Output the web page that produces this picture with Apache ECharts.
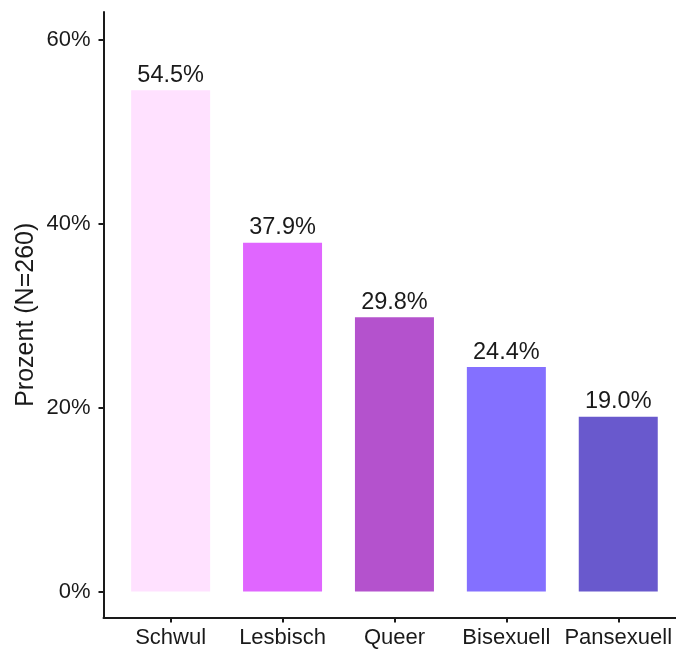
<!DOCTYPE html>
<html>
<head>
<meta charset="utf-8">
<script src="https://cdn.jsdelivr.net/npm/echarts@6/dist/echarts.min.js"></script>
<style>
  html, body { margin: 0; padding: 0; background: #fff; }
  #myChart { width: 676px; height: 651px; }
</style>
</head>
<body>
<div id="myChart"></div>
<script>
let myChart = echarts.init(document.getElementById('myChart'));

// data
const categories = ['Schwul', 'Lesbisch', 'Queer', 'Bisexuell', 'Pansexuell'];
const percents = [54.5, 37.9, 29.8, 24.4, 19.0];
const barColors = ['#FFE1FF', '#E066FF', '#B452CD', '#8470FF', '#6959CD'];
const yTicks = [0, 20, 40, 60];
const xTicks = categories.map((c, i) => i + 1);

const font = "'Liberation Sans', Arial, sans-serif";
const ink = '#1a1a1a';

const barData = categories.map(function (name, i) {
  return {
    name: name,
    value: [i + 1, percents[i]],
    itemStyle: { color: barColors[i] },
  };
});

let myChartOption = {
  animation: false,
  grid: {
    left: 103.5,
    top: 12,
    right: 0,
    bottom: 33.5,
    containLabel: false,
  },
  xAxis: {
    type: 'value',
    min: 0.4,
    max: 5.516, // plot is cut off at the right edge
    splitLine: { show: false },
    axisLine: { show: true, onZero: false, lineStyle: { color: ink, width: 2 } },
    axisTick: {
      show: true,
      length: 5,
      customValues: xTicks,
      lineStyle: { color: ink, width: 2 },
    },
    axisLabel: {
      customValues: xTicks,
      margin: 9,
      fontSize: 22,
      fontFamily: font,
      color: ink,
      formatter: function (v) {
        return categories[Math.round(v) - 1] || '';
      },
    },
  },
  yAxis: {
    type: 'value',
    min: -2.83,
    max: 63.0,
    name: 'Prozent (N=260)',
    nameLocation: 'middle',
    nameGap: 65,
    nameMoveOverlap: false,
    nameTextStyle: { fontSize: 25, fontFamily: font, color: ink },
    splitLine: { show: false },
    axisLine: { show: true, onZero: false, lineStyle: { color: ink, width: 2 } },
    axisTick: {
      show: true,
      length: 5,
      customValues: yTicks,
      lineStyle: { color: ink, width: 2 },
    },
    axisLabel: {
      customValues: yTicks,
      margin: 13,
      fontSize: 22,
      fontFamily: font,
      color: ink,
      formatter: function (v) {
        return Math.round(v) + '%';
      },
    },
  },
  series: [
    {
      type: 'bar',
      barWidth: 79,
      data: barData,
      label: {
        show: true,
        position: 'top',
        distance: 3,
        fontSize: 23.5,
        fontFamily: font,
        color: ink,
        formatter: function (p) {
          return p.value[1].toFixed(1) + '%';
        },
      },
    },
  ],
};

myChart.setOption(myChartOption);
</script>
</body>
</html>
